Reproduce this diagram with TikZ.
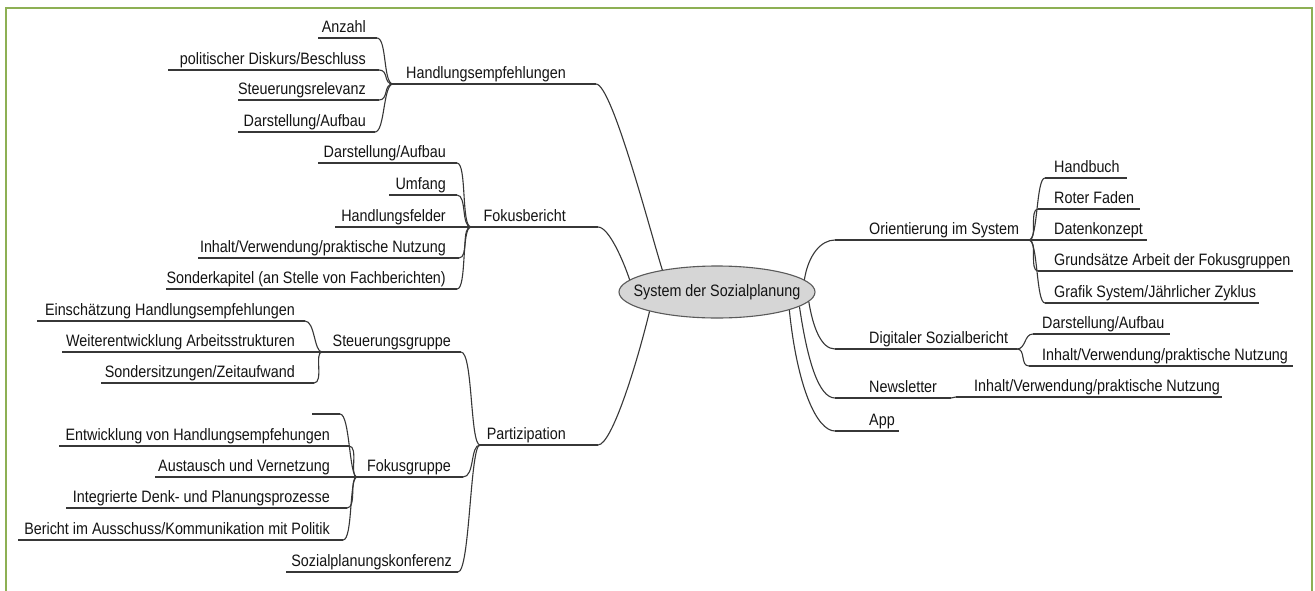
\documentclass[tikz,border=0pt]{standalone}
\usepackage{fontspec}
\setmainfont{Liberation Sans}
\usepackage{graphicx}
\usetikzlibrary{shapes.geometric}

\definecolor{framegreen}{RGB}{141,176,84}
\definecolor{inkline}{RGB}{55,55,55}
\definecolor{inktext}{RGB}{20,20,20}
\definecolor{bubblefill}{RGB}{214,214,214}
\definecolor{bubbleline}{RGB}{90,90,90}

% one topic of the mind map: underline from (x-left,y) to (x-right,y),
% text set on a baseline 5.5 units above the line
% #1 name, #2 x left, #3 x right, #4 line y, #5 text anchor, #6 text x, #7 text
\newcommand\mmtopic[7]{%
  \coordinate (#1-l) at (#2,#4);
  \coordinate (#1-r) at (#3,#4);
  \node[topic, anchor=#5] (#1) at (#6,#4-5.5) {\scalebox{0.87}[1]{#7}};
  \draw[uline] (#1-l) -- (#1-r);
}

\begin{document}
\begin{tikzpicture}[x=1pt, y=-1pt,
  topic/.style={inner sep=0pt, text=inktext, font=\fontsize{16.5}{18}\selectfont},
  uline/.style={draw=inkline, line width=1.1pt},
  link/.style={draw=inkline, line width=1.1pt},
  bubble/.style={ellipse, draw=bubbleline, fill=bubblefill, line width=1.1pt,
    minimum width=196pt, minimum height=52pt, inner sep=0pt, text=inktext,
    font=\fontsize{16.5}{18}\selectfont},
  frame/.style={draw=framegreen, line width=2.6pt}]

\useasboundingbox (0,0) rectangle (1315,590);
\fill[white] (0,0) rectangle (1315,590);
\draw[frame] (6,592) -- (6,8) -- (1312,8) -- (1312,592);

% central topic (text box kept narrow so the ellipse keeps its set size)
\node[bubble] (sys) at (717,292)
  {\makebox[0pt][c]{\scalebox{0.87}[1]{System der Sozialplanung}}};

% ---- Handlungsempfehlungen
\mmtopic{hem}{393}{596}{84}{base east}{566}{Handlungsempfehlungen}
\mmtopic{anz}{318}{377}{38}{base east}{366}{Anzahl}
\mmtopic{pol}{168}{379}{70}{base east}{366}{politischer Diskurs/Beschluss}
\mmtopic{rel}{238}{379}{100}{base east}{366}{Steuerungsrelevanz}
\mmtopic{hda}{238}{375}{132}{base east}{366}{Darstellung/Aufbau}
\foreach \c in {anz,pol,rel,hda}
  \draw[link] (\c-r) .. controls +(10,0) and +(-10,0) .. (hem-l);

% ---- Fokusbericht
\mmtopic{fok}{471}{598}{227}{base east}{566}{Fokusbericht}
\mmtopic{fda}{318}{457}{163}{base east}{446}{Darstellung/Aufbau}
\mmtopic{umf}{389}{457}{195}{base east}{446}{Umfang}
\mmtopic{hfe}{335}{466}{227}{base east}{446}{Handlungsfelder}
\mmtopic{fin}{198}{459}{258}{base east}{446}{Inhalt/Verwendung/praktische Nutzung}
\mmtopic{sok}{166}{457}{289}{base east}{446}{Sonderkapitel (an Stelle von Fachberichten)}
\foreach \c in {fda,umf,fin,sok}
  \draw[link] (\c-r) .. controls +(10,0) and +(-10,0) .. (fok-l);
\draw[link] (hfe-r) -- (fok-l);

% ---- Partizipation
\mmtopic{par}{480}{598}{445}{base east}{566}{Partizipation}
\mmtopic{stg}{322}{461}{352}{base east}{451}{Steuerungsgruppe}
\mmtopic{fgr}{357}{463}{477}{base east}{451}{Fokusgruppe}
\mmtopic{spk}{286}{458}{572}{base east}{452}{Sozialplanungskonferenz}
\foreach \c in {stg,fgr,spk}
  \draw[link] (\c-r) .. controls +(12,0) and +(-10,0) .. (par-l);

\mmtopic{ein}{37}{305}{321}{base east}{295}{Einschätzung Handlungsempfehlungen}
\mmtopic{wei}{62}{316}{352}{base east}{295}{Weiterentwicklung Arbeitsstrukturen}
\mmtopic{szz}{101}{314}{383}{base east}{295}{Sondersitzungen/Zeitaufwand}
\foreach \c in {ein,szz}
  \draw[link] (\c-r) .. controls +(10,0) and +(-8,0) .. (stg-l);
\draw[link] (wei-r) -- (stg-l);

\mmtopic{fg0}{312}{340}{414}{base east}{330}{}
\mmtopic{ent}{59}{349}{446}{base east}{330}{Entwicklung von Handlungsempfehungen}
\mmtopic{aus}{155}{352}{477}{base east}{330}{Austausch und Vernetzung}
\mmtopic{idp}{66}{347}{508}{base east}{330}{Integrierte Denk- und Planungsprozesse}
\mmtopic{bau}{18}{343}{540}{base east}{330}{Bericht im Ausschuss/Kommunikation mit Politik}
\foreach \c in {fg0,ent,idp,bau}
  \draw[link] (\c-r) .. controls +(10,0) and +(-8,0) .. (fgr-l);
\draw[link] (aus-r) -- (fgr-l);

% ---- right side
\mmtopic{ori}{835}{1029}{240}{base west}{869}{Orientierung im System}
\mmtopic{hbu}{1045}{1127}{178}{base west}{1054}{Handbuch}
\mmtopic{rfa}{1038}{1140}{209}{base west}{1054}{Roter Faden}
\mmtopic{dko}{1034}{1147}{240}{base west}{1054}{Datenkonzept}
\mmtopic{gfg}{1038}{1293}{271}{base west}{1054}{Grundsätze Arbeit der Fokusgruppen}
\mmtopic{gsz}{1045}{1259}{303}{base west}{1054}{Grafik System/Jährlicher Zyklus}
\foreach \c in {hbu,rfa,gfg,gsz}
  \draw[link] (ori-r) .. controls +(9,0) and +(-9,0) .. (\c-l);
\draw[link] (ori-r) -- (dko-l);

\mmtopic{dsb}{835}{1017}{349}{base west}{869}{Digitaler Sozialbericht}
\mmtopic{dda}{1033}{1170}{334}{base west}{1042}{Darstellung/Aufbau}
\mmtopic{din}{1029}{1293}{366}{base west}{1042}{Inhalt/Verwendung/praktische Nutzung}
\foreach \c in {dda,din}
  \draw[link] (dsb-r) .. controls +(9,0) and +(-9,0) .. (\c-l);

\mmtopic{nws}{835}{951}{398}{base west}{869}{Newsletter}
\mmtopic{nin}{956}{1222}{397}{base west}{974}{Inhalt/Verwendung/praktische Nutzung}
\draw[link] (nws-r) -- (nin-l);

\mmtopic{app}{835}{899}{431}{base west}{869}{App}

% ---- branches from the central topic
\draw[link] (hem-r) .. controls +(16,0) and +(-12,-38) .. (sys.158);
\draw[link] (fok-r) .. controls +(11,0) and +(-6,-18) .. (sys.172);
\draw[link] (par-r) .. controls +(14,0) and +(-12,50) .. (sys.196);
\draw[link] (sys.8) .. controls +(4,-25) and +(-14,0) .. (ori-l);
\draw[link] (sys.-6) .. controls +(4,25) and +(-14,0) .. (dsb-l);
\draw[link] (sys.-10) .. controls +(8,55) and +(-16,0) .. (nws-l);
\draw[link] (sys.-14) .. controls +(8,78) and +(-18,0) .. (app-l);

\end{tikzpicture}
\end{document}
